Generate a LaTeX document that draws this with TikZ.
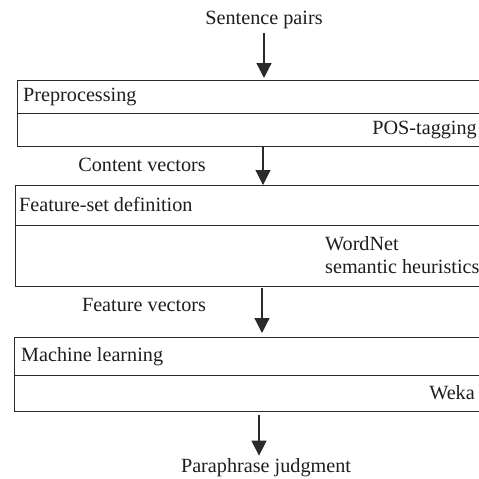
\documentclass[tikz,border=0pt]{standalone}
\usepackage{fontspec}
\setmainfont{Liberation Serif}
\usetikzlibrary{arrows.meta}
\definecolor{linec}{HTML}{2A2A2A}
\definecolor{txtc}{HTML}{1E1E1E}
\begin{document}
\begin{tikzpicture}[x=1pt,y=-1pt,
  row/.style={draw=linec, line width=1.1pt, minimum width=490pt, inner sep=0pt, anchor=north west},
  lbl/.style={font=\fontsize{20.2}{23}\selectfont, text=txtc, inner sep=0pt},
  arr/.style={draw=linec, line width=1.2pt, -{Triangle[length=15pt,width=15pt]}},
]
\useasboundingbox (0,0) rectangle (479,479);
\clip (0,0) rectangle (479,479);
\fill[white] (0,0) rectangle (479,479);
% boxes
\node[row, minimum height=33pt] (pre) at (17,80) {};
\node[row, minimum height=33pt] (pos) at (17,113) {};
\node[row, minimum height=40pt] (fsd) at (15,185) {};
\node[row, minimum height=61pt] (wn) at (15,225) {};
\node[row, minimum height=38pt] (ml) at (14,337) {};
\node[row, minimum height=36pt] (wk) at (14,375) {};
% texts
\node[lbl] (sp) at (264,20) {Sentence pairs};
\node[lbl, anchor=west] (tpre) at (23,96.5) {Preprocessing};
\node[lbl, anchor=east] (tpos) at (477,129.5) {POS-tagging};
\node[lbl] (cv) at (142,165) {Content vectors};
\node[lbl, anchor=west] (tfsd) at (19,204) {Feature-set definition};
\node[lbl, anchor=west, align=left] (twn) at (325,255.5) {WordNet\\semantic heuristics};
\node[lbl] (fv) at (144,305) {Feature vectors};
\node[lbl, anchor=west] (tml) at (21,357) {Machine learning};
\node[lbl, anchor=east] (twk) at (475,393) {Weka};
\node[lbl] (pj) at (266,468) {Paraphrase judgment};
% arrow x positions
\coordinate (a1) at (264,0);
\coordinate (a2) at (263,0);
\coordinate (a3) at (262,0);
\coordinate (a4) at (259,0);
% arrows
\draw[arr, shorten <=4pt, shorten >=2pt] (sp.south -| a1) -- (pre.north -| a1);
\draw[arr] (pos.south -| a2) -- (fsd.north -| a2);
\draw[arr, shorten <=1pt, shorten >=4pt] (wn.south -| a3) -- (ml.north -| a3);
\draw[arr, shorten <=3pt, shorten >=3pt] (wk.south -| a4) -- (pj.north -| a4);
\end{tikzpicture}
\end{document}
